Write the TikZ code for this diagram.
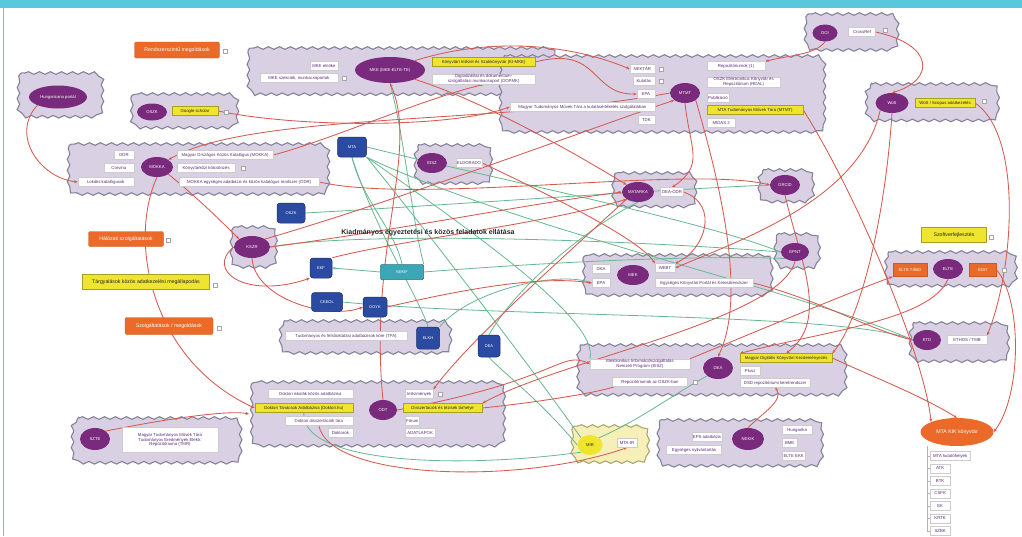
\documentclass[tikz,border=0pt]{standalone}
\usepackage{fontspec}
\setmainfont{Liberation Sans}
\usetikzlibrary{shapes.geometric,decorations.pathmorphing,arrows.meta}
\pgfdeclarelayer{bg}
\pgfdeclarelayer{lines}
\pgfsetlayers{bg,lines,main}
\definecolor{cyanf}{HTML}{5AC8DC}
\definecolor{cloudf}{HTML}{DAD0E4}
\definecolor{cloudb}{HTML}{85839A}
\definecolor{ycloudf}{HTML}{F6F0B8}
\definecolor{purp}{HTML}{7A2A7C}
\definecolor{orng}{HTML}{EB6A2A}
\definecolor{yel}{HTML}{EFE52E}
\definecolor{blu}{HTML}{2B4BA3}
\definecolor{tealb}{HTML}{3AA6B6}
\definecolor{txtp}{HTML}{5A2A78}
\definecolor{redl}{HTML}{D55A50}
\definecolor{grnl}{HTML}{66B890}
\newcommand{\myfs}[1]{\fontsize{#1}{#1}\selectfont}
\newcommand{\cloudout}[2][cl]{%
 \draw[#1] ([xshift=9pt]#2.north west) -- ([xshift=-9pt]#2.north east)
   arc[start angle=90,end angle=0,radius=9pt] -- ([yshift=9pt]#2.south east)
   arc[start angle=0,end angle=-90,radius=9pt] -- ([xshift=9pt]#2.south west)
   arc[start angle=-90,end angle=-180,radius=9pt] -- ([yshift=-9pt]#2.north west)
   arc[start angle=180,end angle=90,radius=9pt] -- cycle;}
\tikzset{
  cl/.style={draw=cloudb, fill=cloudf, line width=1.1pt, decorate, decoration={snake, segment length=11pt, amplitude=1.3pt}},
  ycl/.style={cl, fill=ycloudf, draw=cloudb!70!yellow},
  cn/.style={inner sep=0pt, outer sep=0pt},
  el/.style={ellipse, fill=purp, text=white, font=\myfs{4.2}, inner sep=0.3pt, align=center},
  wb/.style={rectangle, fill=white, draw=black!20, line width=0.3pt, text=txtp, font=\myfs{4.3}, inner sep=1pt, minimum height=9pt, align=center},
  yb/.style={wb, fill=yel, draw=yel!70!black, text=black!85},
  ob/.style={rectangle, rounded corners=2pt, fill=orng, draw=orng!85!black, line width=0.4pt, text=white, font=\myfs{5.2}, inner sep=1pt},
  bb/.style={rectangle, rounded corners=3pt, fill=blu, draw=blu!60!black, line width=0.5pt, text=white, font=\myfs{4}, minimum width=23pt, minimum height=19pt, inner sep=0.5pt},
  ic/.style={rectangle, draw=gray!70, fill=white, line width=0.4pt, minimum width=3.5pt, minimum height=4.5pt, inner sep=0pt},
  rl/.style={draw=redl, line width=0.85pt, -{Stealth[length=3.5pt,width=3pt]}},
  gl/.style={draw=grnl, line width=0.8pt},
  treel/.style={draw=black!30, line width=0.5pt},
}
\begin{document}
\begin{tikzpicture}[x=1pt,y=-1pt]
\useasboundingbox (0,0) rectangle (1022,536);
% cloud frames (named, invisible)
\node[cn, minimum width=84pt, minimum height=44pt] (cA) at (58,95) {};
\node[cn, minimum width=106pt, minimum height=34pt] (cB) at (182,111) {};
\node[cn, minimum width=260pt, minimum height=50pt] (cC) at (196,169) {};
\node[cn, minimum width=308pt, minimum height=46pt] (cD) at (399,71) {};
\node[cn, minimum width=324pt, minimum height=76pt] (cE) at (660,94) {};
\node[cn, minimum width=92pt, minimum height=36pt] (cF) at (849,32) {};
\node[cn, minimum width=132pt, minimum height=36pt] (cG) at (929,102) {};
\node[cn, minimum width=76pt, minimum height=38pt] (cH) at (450,164) {};
\node[cn, minimum width=82pt, minimum height=34pt] (cI) at (652,190) {};
\node[cn, minimum width=54pt, minimum height=32pt] (cJ) at (783,186) {};
\node[cn, minimum width=44pt, minimum height=40pt] (cK) at (251,247) {};
\node[cn, minimum width=44pt, minimum height=34pt] (cL) at (794,251) {};
\node[cn, minimum width=188pt, minimum height=40pt] (cM) at (675,275) {};
\node[cn, minimum width=130pt, minimum height=34pt] (cN) at (948,269) {};
\node[cn, minimum width=98pt, minimum height=38pt] (cO) at (956,342) {};
\node[cn, minimum width=170pt, minimum height=32pt] (cP) at (363,337) {};
\node[cn, minimum width=268pt, minimum height=50pt] (cQ) at (709,370) {};
\node[cn, minimum width=252pt, minimum height=64pt] (cR) at (375,414) {};
\node[cn, minimum width=168pt, minimum height=44pt] (cS) at (154,440) {};
\node[cn, minimum width=76pt, minimum height=36pt] (cT) at (607,444) {};
\node[cn, minimum width=164pt, minimum height=46pt] (cU) at (737,443) {};
\begin{pgfonlayer}{bg}
\fill[white] (0,0) rectangle (1022,536);
\fill[cyanf] (0,0) rectangle (1022,8);
\fill[cyanf] (2.5,0) rectangle (4,536);
\cloudout{cA}\cloudout{cB}\cloudout{cC}\cloudout{cD}\cloudout{cE}
\cloudout{cF}\cloudout{cG}\cloudout{cH}\cloudout{cI}\cloudout{cJ}
\cloudout{cK}\cloudout{cL}\cloudout{cM}\cloudout{cN}\cloudout{cO}
\cloudout{cP}\cloudout{cQ}\cloudout{cR}\cloudout{cS}\cloudout[ycl]{cT}
\cloudout{cU}
\end{pgfonlayer}

% standalone labels
\node[ob, minimum width=85pt, minimum height=16pt] (oR) at (177,50) {Rendszerszintű megoldások};
\node[ic] (icR) at (225,51) {};
\node[ob, minimum width=75pt, minimum height=15pt] (oH) at (126,239) {Hálózati szolgáltatások};
\node[ic] (icH) at (168,240) {};
\node[ob, fill=yel, draw=yel!70!black, text=black!85, rounded corners=0pt, minimum width=127pt, minimum height=15pt] (yT) at (146,282) {Tárgyalások közös adatkezelési megállapodás};
\node[ic] (icT) at (215,285) {};
\node[ob, minimum width=88pt, minimum height=17pt] (oS) at (169,326) {Szolgáltatások / megoldások};
\node[ic] (icS) at (219,328) {};
\node[ob, fill=yel, draw=yel!70!black, text=black!85, rounded corners=0pt, minimum width=65pt, minimum height=15pt] (ySW) at (954,235) {Szoftverfejlesztés};
\node[ic] (icSW) at (991,237) {};
\node[el, fill=orng, font=\myfs{5.2}, minimum width=73pt, minimum height=28pt] (oMTA) at (957,432) {MTA KIK könyvtár};
\node[wb, anchor=west, minimum width=40pt] (l1) at (930,456) {MTA kutatóhelyek};
\node[wb, anchor=west, minimum width=20pt] (l2) at (930,468.5) {ATK};
\node[wb, anchor=west, minimum width=20pt] (l3) at (930,481) {BTK};
\node[wb, anchor=west, minimum width=20pt] (l4) at (930,493.5) {CSFK};
\node[wb, anchor=west, minimum width=20pt] (l5) at (930,506) {EK};
\node[wb, anchor=west, minimum width=20pt] (l6) at (930,518.5) {KRTK};
\node[wb, anchor=west, minimum width=20pt] (l7) at (930,531) {SZBK};
\coordinate (tr0) at (927,446);

% A, B
\node[el, minimum width=58pt, minimum height=23pt] (eA) at (58,97) {Hungaricana portál};
\node[el, minimum width=30pt, minimum height=17pt] (eB) at (152,112) {OSZK};
\node[yb, minimum width=46pt] (yB) at (195,111) {Google scholar};
\node[ic] (icB) at (226,112) {};
% C
\node[el, minimum width=32pt, minimum height=20pt] (eC) at (157,167) {MOKKA};
\node[wb, anchor=east, minimum width=20pt] (c1) at (134,155) {ODR};
\node[wb, anchor=east, minimum width=30pt] (c2) at (134,168) {Corvina};
\node[wb, anchor=east, minimum width=56pt] (c3) at (134,182) {Lokális katalógusok};
\node[wb, anchor=west, minimum width=96pt] (c4) at (177,155) {Magyar Országos Közös Katalógus (MOKKA)};
\node[wb, anchor=west, minimum width=58pt] (c5) at (177,168) {Könyvtárközi kölcsönzés};
\node[ic] (icC) at (243,168) {};
\node[wb, anchor=west, minimum width=140pt] (c6) at (179,182) {MOKKA egységes adatbázis és közös katalógus rendszer (ODR)};
% D
\node[el, minimum width=70pt, minimum height=26pt] (eD) at (390,70) {MKE (MKE-ELTE-TE)};
\node[wb, anchor=east, minimum width=28pt] (d1) at (338,66) {MKE elnöke};
\node[wb, anchor=east, minimum width=78pt] (d2) at (338,78) {MKE szekciók, munkacsoportok};
\node[ic] (icD) at (344,78) {};
\node[yb, anchor=west, minimum width=103pt] (d3) at (432,62) {Könyvtári Intézet és Szakkönyvtár (KI-MKE)};
\node[wb, anchor=west, minimum width=103pt] (d4) at (432,79) {Digitalizálási és dokumentum-\\szolgáltatási munkacsoport (DOPMK)};
% E
\node[el, minimum width=30pt, minimum height=20pt] (eE) at (685,93) {MTMT};
\node[wb, anchor=east, minimum width=25pt] (e1) at (655,69) {NEKTÁR};
\node[wb, anchor=east, minimum width=22pt] (e2) at (655,81) {Kutatás};
\node[wb, anchor=east, minimum width=18pt] (e3) at (655,94) {EPA};
\node[wb, anchor=east, minimum width=145pt] (e4) at (655,107) {Magyar Tudományos Művek Tára a kutatásértékelés szolgálatában};
\node[wb, anchor=east, minimum width=17pt] (e5) at (655,120) {TDK};
\node[ic] (icE1) at (661,69) {};
\node[ic] (icE2) at (661,81) {};
\node[wb, anchor=west, minimum width=58pt] (e6) at (707,66) {Repozitóriumok (1)};
\node[wb, anchor=west, minimum width=73pt] (e7) at (707,82) {OSZK Elektronikus Könyvtár és\\Repozitórium (REAL)};
\node[wb, anchor=west, minimum width=20pt] (e8) at (707,98) {Publikáció};
\node[yb, anchor=west, minimum width=96pt] (e9) at (707,110) {MTA Tudományos Művek Tára (MTMT)};
\node[wb, anchor=west, minimum width=28pt] (e10) at (707,123) {MIDAS 2};
% F, G
\node[el, minimum width=25pt, minimum height=17pt] (eF) at (825,33) {DOI};
\node[wb, minimum width=27pt] (f1) at (862,32) {CrossRef};
\node[ic] (icF) at (885,30) {};
\node[el, minimum width=33pt, minimum height=20pt] (eG) at (892,103) {WoS};
\node[yb, minimum width=60pt] (g1) at (945,103) {WoS / Scopus adatkezelés};
\node[ic] (icG) at (984,101) {};
% H, I, J, K, L
\node[el, minimum width=30pt, minimum height=20pt] (eH) at (432,163) {EISZ};
\node[wb, minimum width=22pt] (h1) at (469,163) {ELDORADO};
\node[el, minimum width=32pt, minimum height=20pt] (eI) at (638,192) {MATARKA};
\node[wb, minimum width=23pt] (i1) at (672,192) {DEA-ODR};
\node[el, minimum width=30pt, minimum height=20pt] (eJ) at (785,185) {ORCID};
\node[el, minimum width=36pt, minimum height=22pt] (eK) at (252,247) {KSZR};
\node[el, minimum width=28pt, minimum height=18pt] (eL) at (795,252) {EPNT};
% M
\node[el, minimum width=32pt, minimum height=20pt] (eM) at (633,275) {MEK};
\node[wb, minimum width=18pt] (m1) at (601,269) {DKA};
\node[wb, minimum width=18pt] (m2) at (601,283) {EPA};
\node[wb, minimum width=20pt] (m3) at (665,268) {WEBT};
\node[wb, anchor=west, minimum width=98pt] (m4) at (655,283) {Egységes Könyvtári Portál és Keresőrendszer};
% N, O
\node[ob, font=\myfs{4.2}, minimum width=34pt, minimum height=13pt, rounded corners=0pt] (nO1) at (910,270) {ELTE TÁBO};
\node[el, minimum width=30pt, minimum height=20pt] (eN) at (948,269) {ELTE};
\node[ob, font=\myfs{4.2}, minimum width=27pt, minimum height=13pt, rounded corners=0pt] (nO2) at (983,270) {EDIT};
\node[ic] (icN) at (1004,270) {};
\node[el, minimum width=28pt, minimum height=20pt] (eO) at (927,340) {ETD};
\node[wb, minimum width=40pt] (o1) at (967,340) {ETHOS / TMB};
% P
\node[wb, minimum width=122pt] (p1) at (346,336) {Tudományos és felsőoktatási adatbázisok köre (TFA)};
% Q
\node[el, minimum width=30pt, minimum height=22pt] (eQ) at (718,368) {DEA};
\node[wb, minimum width=100pt] (q1) at (640,364) {Elektronikus Információszolgáltatás\\Nemzeti Program (EISZ)};
\node[wb, minimum width=75pt] (q2) at (650,382) {Repozitóriumok az OSZK-ban};
\node[ic] (icQ) at (695,382) {};
\node[yb, anchor=west, minimum width=92pt] (q3) at (740,358) {Magyar Digitális Könyvtári Kezdeményezés};
\node[wb, anchor=west, minimum width=20pt] (q4) at (740,371) {Plusz};
\node[wb, anchor=west, minimum width=70pt] (q5) at (740,383) {DSD repozitóriumi keretrendszer};
% R
\node[el, minimum width=28pt, minimum height=20pt] (eR) at (383,410) {ODT};
\node[wb, anchor=east, minimum width=85pt] (r1) at (353,394) {Doktori iskolák közös adatbázisa};
\node[yb, anchor=east, minimum width=98pt] (r2) at (353,408) {Doktori Tanácsok Adatbázisa (Doktori.hu)};
\node[wb, anchor=east, minimum width=68pt] (r3) at (353,421) {Doktori disszertációk tára};
\node[wb, anchor=east, minimum width=25pt] (r4) at (353,433) {Doktorok};
\node[wb, anchor=west, minimum width=28pt] (r5) at (405,394) {Intézmények};
\node[yb, anchor=west, minimum width=79pt] (r6) at (403,408) {Disszertációk és tézisek tárhelye};
\node[wb, anchor=west, minimum width=13pt] (r7) at (405,421) {Fórum};
\node[wb, anchor=west, minimum width=30pt] (r8) at (405,433) {ADATLAPOK};
\node[ic] (icR1) at (440,394) {};
% S
\node[el, minimum width=30pt, minimum height=22pt] (eS) at (95,439) {SZTE};
\node[wb, minimum width=96pt, minimum height=25pt] (s1) at (170,440) {Magyar Tudományos Művek Tára\\Tudományos Eredmények Elektr.\\Repozitóriuma (TMR)};
% T
\node[el, fill=yel, text=black!85, minimum width=25pt, minimum height=20pt] (eT) at (590,445) {MIR};
\node[wb, minimum width=20pt] (t1b) at (627,443) {MTA-IR};
% U
\node[el, minimum width=32pt, minimum height=22pt] (eU) at (748,439) {NEKIK};
\node[wb, minimum width=30pt] (u1) at (707,437) {EPS adatbázis};
\node[wb, minimum width=55pt] (u2) at (694,450) {Egységes nyilvántartás};
\node[wb, anchor=west, minimum width=30pt] (u3) at (782,430) {Hungarika};
\node[wb, anchor=west, minimum width=15pt] (u4) at (782,443) {BME};
\node[wb, anchor=west, minimum width=23pt] (u5) at (782,456) {ELTE EKK};
% blue boxes
\node[bb, minimum width=29pt, minimum height=20pt] (b1) at (352,147) {MTA};
\node[bb, minimum width=28pt, minimum height=20pt] (b2) at (291,213) {OSZK};
\node[bb, minimum width=22pt, minimum height=20pt] (b3) at (321,268) {EKF};
\node[bb, minimum width=31pt, minimum height=19pt] (b4) at (327,302) {CEEOL};
\node[bb, minimum width=24pt, minimum height=20pt] (b5) at (375,307) {OGYK};
\node[bb, minimum width=23pt, minimum height=22pt] (b6) at (428,338) {ELKH};
\node[bb, minimum width=22pt, minimum height=22pt] (b7) at (489,346) {DEA};
\node[bb, fill=tealb, draw=tealb!70!black, rounded corners=1pt, minimum width=43pt, minimum height=15pt] (t1) at (402,272) {NEKIF};
% title
\node[font=\bfseries\myfs{7}, text=black!85] (title) at (428,233) {Kiadmányos egyeztetési és közös feladatok ellátása};

\begin{pgfonlayer}{lines}
% tree of MTA list
\draw[treel] (tr0) |- (l7.west);
\draw[treel] (tr0 |- l1.west) -- (l1.west);
\draw[treel] (tr0 |- l2.west) -- (l2.west);
\draw[treel] (tr0 |- l3.west) -- (l3.west);
\draw[treel] (tr0 |- l4.west) -- (l4.west);
\draw[treel] (tr0 |- l5.west) -- (l5.west);
\draw[treel] (tr0 |- l6.west) -- (l6.west);
% green connectors
\draw[gl] (b1.south) .. controls (362,200) and (395,230) .. (t1.north);
\draw[gl] (eD.south) .. controls (405,140) and (412,220) .. (t1.north east);
\draw[gl] (b1.south east) .. controls (450,260) and (540,380) .. (eT.north west);
\draw[gl] (b1.east) .. controls (500,180) and (700,220) .. (eL.west);
\draw[gl] (b1.south east) .. controls (520,230) and (800,290) .. (eO.west);
\draw[gl] (b1.south east) .. controls (470,230) and (600,320) .. (q1.north west);
\draw[gl] (b1.south) .. controls (375,230) and (420,300) .. (b6.north);
\draw[gl] (b2.east) .. controls (450,205) and (650,190) .. (eJ.west);
\draw[gl, -{Stealth[length=3.5pt,width=3pt]}] (t1.west) -- (b3.east);
\draw[gl] (t1.east) .. controls (550,262) and (700,255) .. (eL.south west);
\draw[gl] (b4.east) .. controls (500,318) and (850,312) .. (eO.west);
\draw[gl] (b7.north) .. controls (520,280) and (600,220) .. (eI.south);
\draw[gl] (eT.north east) .. controls (640,420) and (680,390) .. (eQ.south west);
\draw[gl] (r2.south) .. controls (300,462) and (450,470) .. (eT.south west);
\draw[gl] (eK.east) .. controls (350,232) and (600,238) .. (eL.west);
\draw[gl] (eT.west) .. controls (540,400) and (500,370) .. (b7.south);
\draw[gl] (b6.north east) .. controls (470,290) and (560,270) .. (m2.west);
% red connectors
\draw[rl] (eA.south west) .. controls (10,135) and (40,178) .. (c3.west);
\draw[rl] (eE.west) .. controls (500,125) and (250,112) .. (eC.north east);
\draw[rl] (eC.south) .. controls (128,240) and (150,360) .. (r2.west);
\draw[rl] (eC.south east) .. controls (200,200) and (225,225) .. (eK.north west);
\draw[rl] (eK.south) .. controls (255,300) and (330,320) .. (b5.west);
\draw[rl] (eK.west) .. controls (205,270) and (245,300) .. (b3.south west);
\draw[rl] (eK.east) .. controls (400,230) and (520,205) .. (eI.west);
\draw[rl] (b3.north east) .. controls (400,240) and (540,225) .. (eI.south west);
\draw[rl] (b5.east) .. controls (460,290) and (540,275) .. (m2.west);
\draw[rl] (eR.north) .. controls (368,250) and (420,150) .. (eD.south);
\draw[rl] (h1.east) .. controls (560,200) and (640,240) .. (m3.north west);
\draw[rl] (i1.east) .. controls (720,205) and (705,250) .. (m3.north east);
\draw[rl] (eE.south) .. controls (690,150) and (705,165) .. (i1.north);
\draw[rl] (eE.south east) .. controls (725,200) and (745,300) .. (eQ.north);
\draw[rl] (eG.south west) .. controls (860,200) and (740,240) .. (m3.east);
\draw[rl] (eG.south) .. controls (885,220) and (860,320) .. (q3.north east);
\draw[rl] (g1.east) .. controls (1022,135) and (1015,265) .. (o1.north east);
\draw[rl] (nO2.east) .. controls (1022,300) and (1022,395) .. (oMTA.east);
\draw[rl] (f1.east) .. controls (935,45) and (935,80) .. (eG.north);
\draw[rl] (eF.south) .. controls (815,55) and (790,55) .. (e6.north east);
\draw[rl] (e9.east) .. controls (860,200) and (925,360) .. (oMTA.north west);
\draw[rl] (q3.east) .. controls (880,380) and (920,395) .. (oMTA.north);
\draw[rl] (eU.north) .. controls (760,415) and (785,400) .. (q5.south);
\draw[rl] (r6.east) .. controls (560,400) and (640,385) .. (q2.west);
\draw[rl] (eR.east) .. controls (560,380) and (560,350) .. (q1.west);
\draw[rl] (r3.south) .. controls (330,480) and (520,485) .. (t1b.south);
\draw[rl] (eS.north east) .. controls (170,418) and (230,410) .. (cR.west);
\draw[rl] (eD.south east) .. controls (480,100) and (570,150) .. (eI.north west);
\draw[rl] (c4.east) .. controls (330,140) and (420,100) .. (d4.south);
\draw[rl] (eK.north east) .. controls (400,200) and (600,125) .. (eE.south west);
\draw[rl] (m4.east) .. controls (820,300) and (870,330) .. (eO.west);
\draw[rl] (q1.north east) .. controls (760,330) and (850,292) .. (nO1.south west);
\draw[rl] (eD.north east) .. controls (480,40) and (560,40) .. (e1.west);
\draw[rl] (d3.east) .. controls (600,45) and (590,95) .. (e3.west);
\draw[rl] (yB.east) .. controls (300,128) and (450,128) .. (e4.west);
\draw[rl] (c6.east) .. controls (420,205) and (690,165) .. (eJ.west);
\draw[rl] (eI.south west) .. controls (560,260) and (470,340) .. (r5.north east);
\draw[rl] (eJ.south) .. controls (800,260) and (830,320) .. (q3.north);
\draw[rl] (eL.south) .. controls (780,320) and (560,360) .. (r6.north east);
\draw[rl] (eN.south) .. controls (930,320) and (830,330) .. (q3.north west);
\end{pgfonlayer}
\end{tikzpicture}
\end{document}
